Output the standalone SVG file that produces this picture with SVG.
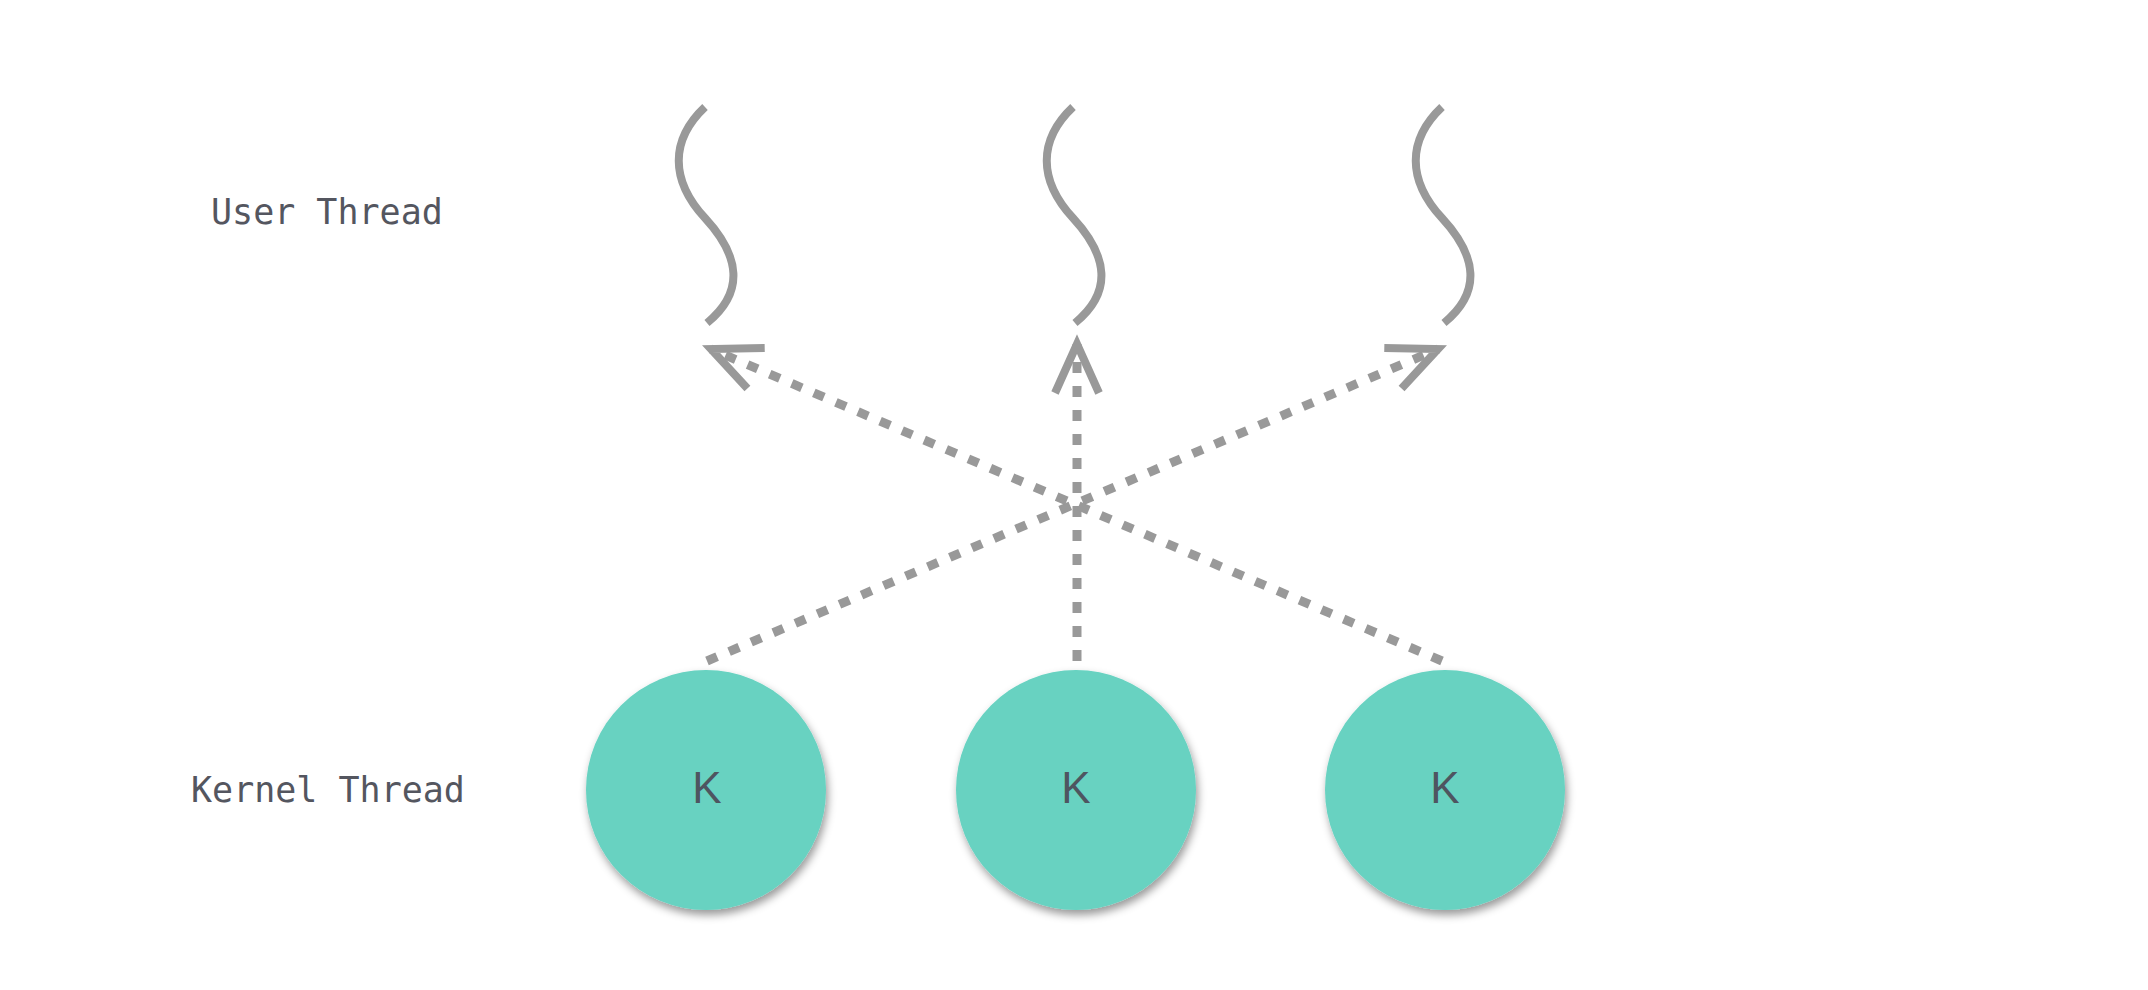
<svg xmlns="http://www.w3.org/2000/svg" width="2148" height="990" viewBox="0 0 2148 990">
<style>
.lbl{font-family:"DejaVu Sans Mono","Liberation Mono",monospace;font-size:35px;fill:#54565f}
.k{font-family:"Liberation Sans","DejaVu Sans",sans-serif;font-size:44px;fill:#4e5560;text-anchor:middle}
.knode{fill:#67d2c1;filter:url(#sh)}
.squig{fill:none;stroke:#999;stroke-width:8;stroke-linecap:butt}
.dash{fill:none;stroke:#999;stroke-width:9;stroke-dasharray:11 13;marker-end:url(#arr)}
</style>
<defs>
<filter id="sh" x="-20%" y="-20%" width="140%" height="140%">
<feDropShadow dx="2" dy="5" stdDeviation="4" flood-color="#000" flood-opacity="0.4"/>
</filter>
<marker id="arr" markerUnits="userSpaceOnUse" markerWidth="90" markerHeight="90" viewBox="-70 -45 90 90" refX="0" refY="0" orient="auto" overflow="visible">
<path d="M -49 -22 L 0 0 L -49 22" fill="none" stroke="#999" stroke-width="8" stroke-linejoin="miter" stroke-miterlimit="10"/>
</marker>
</defs>
<rect width="2148" height="990" fill="#fff"/>
<g id="label-user"><text class="lbl" x="211" y="224">User Thread</text></g>
<g id="label-kernel"><text class="lbl" x="191" y="802">Kernel Thread</text></g>
<g id="user1"><path class="squig" d="M 705 107 C 670 140 670 180 705 218 C 740 256 745 292 707 323"/></g>
<g id="user2"><path class="squig" d="M 1073 107 C 1038 140 1038 180 1073 218 C 1108 256 1113 292 1075 323"/></g>
<g id="user3"><path class="squig" d="M 1442 107 C 1407 140 1407 180 1442 218 C 1477 256 1482 292 1444 323"/></g>
<g id="connectors">
<path class="dash" d="M 707 661 L 1438 349"/>
<path class="dash" d="M 1077 661 L 1077 344"/>
<path class="dash" d="M 1442 661 L 711 349"/>
</g>
<g id="kernel1"><circle class="knode" cx="706" cy="790" r="120"/><text class="k" x="707" y="803">K</text></g>
<g id="kernel2"><circle class="knode" cx="1076" cy="790" r="120"/><text class="k" x="1076" y="803">K</text></g>
<g id="kernel3"><circle class="knode" cx="1445" cy="790" r="120"/><text class="k" x="1445" y="803">K</text></g>
</svg>
